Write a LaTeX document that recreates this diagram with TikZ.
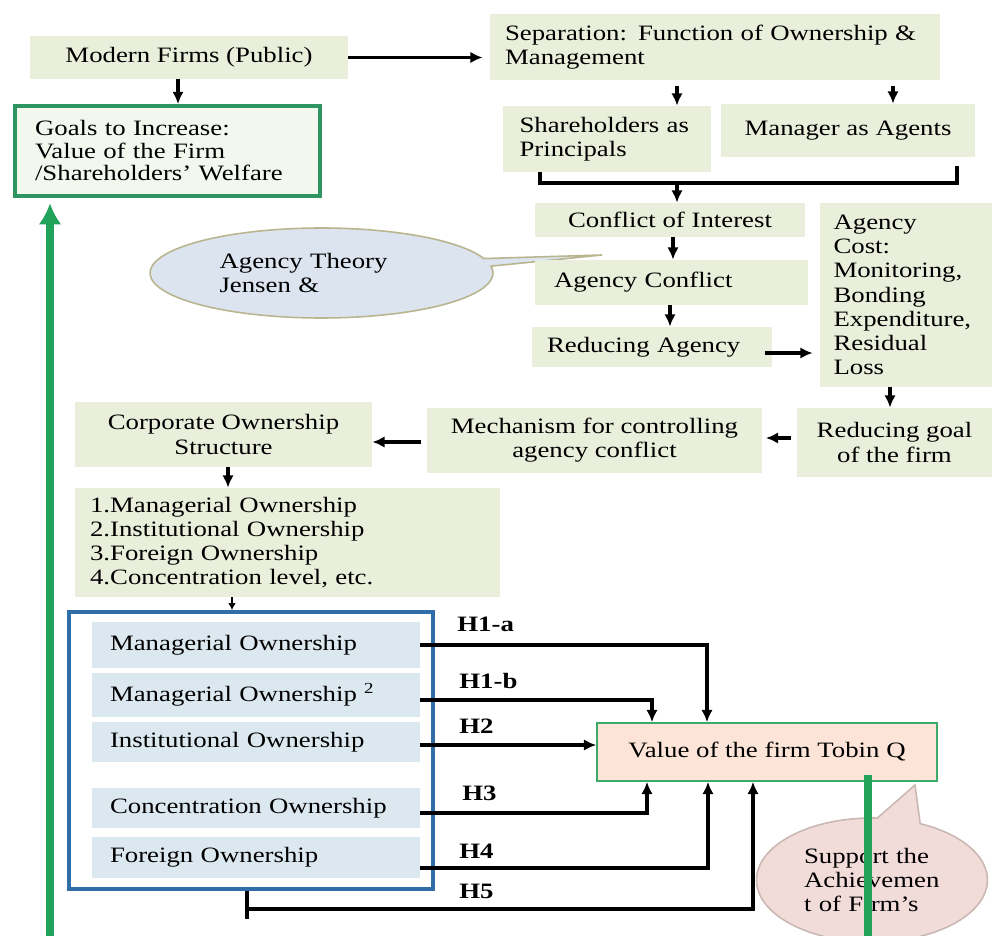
\documentclass[tikz,border=0pt]{standalone}
\usepackage{fontspec}
\setmainfont{Liberation Serif}[FakeStretch=1.22]
\usetikzlibrary{arrows.meta,shapes.callouts}
\definecolor{boxg}{HTML}{E9EFDB}
\definecolor{innb}{HTML}{DCE8F0}
\definecolor{frameb}{HTML}{2F6EA6}
\definecolor{gline}{HTML}{21A35C}
\definecolor{gbord}{HTML}{2E9460}
\definecolor{gfill}{HTML}{F3F8EF}
\definecolor{peach}{HTML}{FCE5D8}
\definecolor{vbord}{HTML}{3DAA6A}
\definecolor{calb}{HTML}{DCE4F0}
\definecolor{calbd}{HTML}{B9B58E}
\definecolor{calp}{HTML}{F2DCDA}
\definecolor{calpd}{HTML}{C9B9B2}
\begin{document}
\begin{tikzpicture}[x=0.02cm,y=-0.02cm,
  every node/.style={font=\fontsize{12.5}{13.8}\selectfont, inner sep=0pt},
  gbox/.style={fill=boxg},
  bbox/.style={fill=innb},
  conn/.style={line width=2pt, -{Latex[length=7pt,width=6.5pt]}},
  plain/.style={line width=2pt},
  hlab/.style={font=\bfseries\fontsize{12.5}{13}\selectfont, anchor=west},
]
\useasboundingbox (0,0) rectangle (992,936);
\clip (0,0) rectangle (992,936);
\fill[white] (0,0) rectangle (992,936);

% callout (behind)
\node[ellipse callout, fill=calb, draw=calbd, line width=0.9pt,
  minimum width=6.86cm, minimum height=1.8cm,
  callout absolute pointer={(602,255)}, callout pointer arc=10,
  text width=4.08cm, align=left] (theory) at (321.5,273) {Agency Theory\\Jensen \&};

% top row
\node[gbox, minimum width=6.36cm, minimum height=0.86cm] (modern) at (189,57.5) {Modern Firms (Public)};
\node[fill=gfill, draw=gbord, line width=2.2pt, minimum width=6.1cm, minimum height=1.8cm,
  text width=5.3cm, align=left, font=\fontsize{12.5}{12.8}\selectfont] (goals) at (167.5,151)
  {Goals to Increase:\\Value of the Firm\\/Shareholders’ Welfare};
\node[gbox, minimum width=9cm, minimum height=1.32cm, text width=8.4cm, align=left] (sep) at (715,47)
  {Separation: Function of Ownership \&\\Management};
\node[gbox, minimum width=4.16cm, minimum height=1.32cm, text width=3.5cm, align=left] (share) at (607,139)
  {Shareholders as\\Principals};
\node[gbox, minimum width=5.08cm, minimum height=1.06cm] (manager) at (848,130.5) {Manager as Agents};

% middle
\node[gbox, minimum width=5.4cm, minimum height=0.68cm] (conflict) at (670,220) {Conflict of Interest};
\node[gbox, minimum width=5.46cm, minimum height=0.9cm, text width=4.7cm, align=left] (agconf) at (671.5,282.5) {Agency Conflict};
\node[gbox, minimum width=4.8cm, minimum height=0.8cm, text width=4.2cm, align=left] (redag) at (652,347) {Reducing Agency};
\node[gbox, minimum width=3.44cm, minimum height=3.68cm, text width=2.9cm, align=left] (agcost) at (906,295)
  {Agency\\Cost:\\Monitoring,\\Bonding\\Expenditure,\\Residual\\Loss};
\node[gbox, minimum width=3.9cm, minimum height=1.38cm, align=center] (redgoal) at (894.5,442.5) {Reducing goal\\of the firm};
\node[gbox, minimum width=6.7cm, minimum height=1.3cm, align=center] (mech) at (594.5,440.5) {Mechanism for controlling\\agency conflict};
\node[gbox, minimum width=5.94cm, minimum height=1.3cm, align=center] (corp) at (223.5,434.5) {Corporate Ownership\\Structure};
\node[gbox, minimum width=8.5cm, minimum height=2.18cm, text width=7.9cm, align=left] (list) at (287.5,542.5)
  {1.Managerial Ownership\\2.Institutional Ownership\\3.Foreign Ownership\\4.Concentration level, etc.};

% bottom frame
\node[draw=frameb, line width=2.2pt, minimum width=7.28cm, minimum height=5.54cm] (frame) at (251,750.5) {};
\node[bbox, minimum width=6.56cm, minimum height=0.92cm, text width=5.84cm, align=left] (mo1) at (256,645) {Managerial Ownership};
\node[bbox, minimum width=6.56cm, minimum height=0.88cm, text width=5.84cm, align=left] (mo2) at (256,695) {Managerial Ownership \textsuperscript{2}};
\node[bbox, minimum width=6.56cm, minimum height=0.8cm, text width=5.84cm, align=left] (inst) at (256,742) {Institutional Ownership};
\node[bbox, minimum width=6.56cm, minimum height=0.8cm, text width=5.84cm, align=left] (conc) at (256,808) {Concentration Ownership};
\node[bbox, minimum width=6.56cm, minimum height=0.82cm, text width=5.84cm, align=left] (forn) at (256,857.5) {Foreign Ownership};

\node[fill=peach, draw=vbord, line width=0.9pt, minimum width=6.8cm, minimum height=1.16cm] (value) at (767,752) {Value of the firm Tobin Q};

% pink callout
\node[ellipse callout, fill=calp, draw=calpd, line width=0.9pt,
  minimum width=4.62cm, minimum height=2.48cm,
  callout absolute pointer={(915,785)}, callout pointer arc=22,
  text width=2.72cm, align=left] (support) at (872,880) {Support the\\Achievemen\\t of Firm’s};

% connectors top
\draw[conn, shorten >=4pt] (modern.east) -- (modern.east -| sep.west);
\draw[conn] (modern.south -| 178,0) -- (goals.north -| 178,0);
\draw[conn, shorten <=3pt] (sep.south -| 677,0) -- (share.north -| 677,0);
\draw[conn, shorten <=3pt] (sep.south -| 893,0) -- (manager.north -| 893,0);
\coordinate (brk) at (677,183);
\draw[plain, shorten >=5pt] (share.south -| 540,0) |- (brk) -| (manager.south -| 957,0);
\draw[conn] (brk) -- (conflict.north -| brk);
\draw[conn] (conflict.south -| 673,0) -- (agconf.north -| 673,0);
\draw[conn] (agconf.south -| 670,0) -- (redag.north -| 670,0);
\draw[conn, shorten <=-4pt, shorten >=4pt] (redag.east |- 0,353) -- (agcost.west |- 0,353);
\draw[conn] (agcost.south -| 890,0) -- (redgoal.north -| 890,0);
\draw[conn, shorten <=3pt, shorten >=2pt] (redgoal.west |- 0,438) -- (mech.east |- 0,438);
\draw[conn, shorten <=3pt] (mech.west |- 0,442) -- (corp.east |- 0,442);
\draw[conn] (corp.south -| 228,0) -- (list.north -| 228,0);
\draw[line width=0.8pt, -{Latex[length=4pt,width=4.5pt]}] (list.south -| 232,0) -- (frame.north -| 232,0);

% hypotheses
\draw[conn] (mo1.east) -| (value.north -| 707,0);
\draw[conn] (mo2.east |- 0,700) -| (value.north -| 652,0);
\draw[conn] (inst.east |- 0,745) -- (value.west |- 0,745);
\draw[conn] (conc.east |- 0,813) -| (value.south -| 647,0);
\draw[conn] (forn.east |- 0,868) -| (value.south -| 708,0);
\draw[plain] (frame.south -| 247,0) -- ++(0,28);
\draw[conn] (frame.south -| 247,0) ++(0,18) -| (value.south -| 753,0);

\node[hlab] (h1a) at (457,624) {H1-a};
\node[hlab] (h1b) at (459,681) {H1-b};
\node[hlab] (h2) at (459,726) {H2};
\node[hlab] (h3) at (462,793) {H3};
\node[hlab] (h4) at (459,851) {H4};
\node[hlab] (h5) at (459,891) {H5};

% green lines
\draw[gline, line width=4pt, -{Latex[length=12pt,width=13pt]}, shorten >=3pt] (50,940) -- (goals.south -| 50,0);
\draw[gline, line width=4pt] (value.south -| 868,0) ++(0,-7) -- (868,940);
\end{tikzpicture}
\end{document}
